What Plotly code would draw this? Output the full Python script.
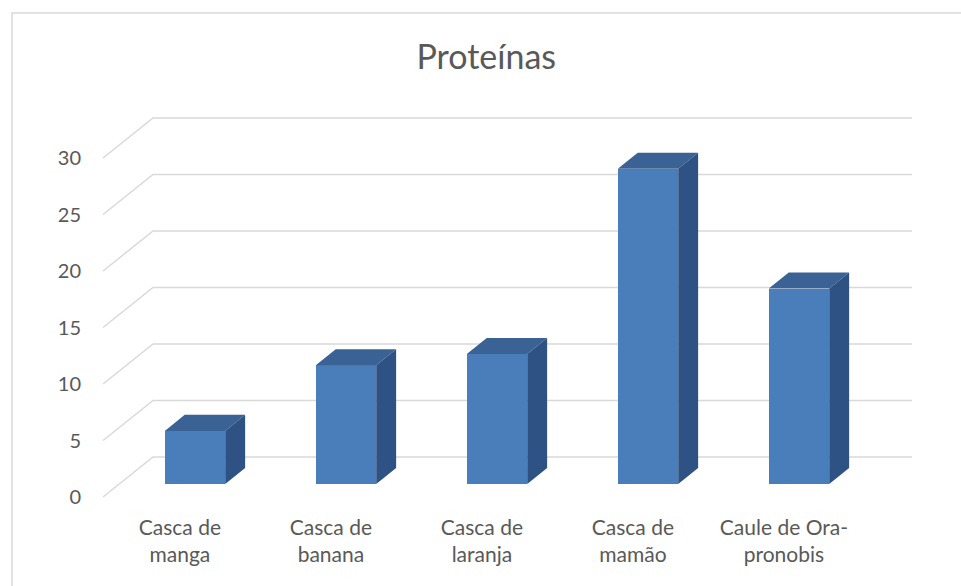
import plotly.graph_objects as go

# ---- data ----
categories = ["Casca de<br>manga", "Casca de<br>banana", "Casca de<br>laranja",
              "Casca de<br>mamão", "Caule de Ora-<br>pronobis"]
values = [4.7, 10.5, 11.5, 27.9, 17.3]
y_ticks = [0, 5, 10, 15, 20, 25, 30]
title = "Proteínas"

# ---- pseudo-3D geometry (data units) ----
BAR_W = 0.40      # front face width
DEP_X = 0.132     # bar depth offset in x
DEP_Y = 1.42      # bar depth offset in y
FRONT_Y = 1.15    # floor front edge below bar plane
BACK_Y = 2.39     # back wall above bar plane
X_FRONT = -0.609
X_BACK = -0.278
X_END = 4.748

FRONT_C = "#4A7EBB"
TOP_C = "#3A6294"
SIDE_C = "#2E5283"
GRID_C = "#D9D9D9"
TEXT_C = "#595959"
FONT = "Lato"

fig = go.Figure()

xs = list(range(len(values)))
# front faces
fig.add_trace(go.Bar(x=xs, y=values, width=BAR_W, marker=dict(color=FRONT_C, line=dict(width=0)),
                     showlegend=False, name="Proteínas"))

# top and side faces
for i, h in zip(xs, values):
    x0, x1 = i - BAR_W / 2, i + BAR_W / 2
    fig.add_trace(go.Scatter(
        x=[x0, x1, x1 + DEP_X, x0 + DEP_X, x0],
        y=[h, h, h + DEP_Y, h + DEP_Y, h],
        fill="toself", fillcolor=TOP_C, mode="lines", line=dict(width=0, color=TOP_C),
        hoverinfo="skip", showlegend=False))
    fig.add_trace(go.Scatter(
        x=[x1, x1 + DEP_X, x1 + DEP_X, x1, x1],
        y=[0, DEP_Y, h + DEP_Y, h, 0],
        fill="toself", fillcolor=SIDE_C, mode="lines", line=dict(width=0, color=SIDE_C),
        hoverinfo="skip", showlegend=False))

L, R, T, B = 100, 930, 100, 505
W, H = 961, 586
X0PX, XSC = 195, 151
Y0PX, YSC = 484, 11.3

shapes = []
# gridlines: floor diagonal + back wall, drawn beneath the bars
for v in y_ticks:
    shapes.append(dict(type="path", xref="x", yref="y", layer="below",
                       path=f"M{X_FRONT},{v - FRONT_Y} L{X_BACK},{v + BACK_Y} L{X_END},{v + BACK_Y}",
                       line=dict(color=GRID_C, width=1.5)))
# chart border
shapes.append(dict(type="rect", xref="paper", yref="paper",
                   x0=(12 - L) / (R - L), x1=(975 - L) / (R - L),
                   y0=-(600 - B) / (B - T), y1=1 + (T - 13) / (B - T),
                   line=dict(color="#D9D9D9", width=1.5), fillcolor="rgba(0,0,0,0)", layer="below"))

fig.update_layout(
    width=W, height=H,
    margin=dict(l=L, r=W - R, t=T, b=H - B),
    paper_bgcolor="white", plot_bgcolor="white",
    title=dict(text=title, x=0.506, xanchor="center", y=1 - 57 / H, yanchor="middle",
               font=dict(family=FONT, size=34, color=TEXT_C)),
    xaxis=dict(range=[(L - X0PX) / XSC, (R - X0PX) / XSC], showgrid=False, zeroline=False,
               showline=False, tickmode="array", tickvals=[i - 0.1 for i in xs],
               ticktext=categories, ticks="", ticklabelstandoff=8,
               tickfont=dict(family=FONT, size=21, color=TEXT_C)),
    yaxis=dict(range=[(Y0PX - B) / YSC, (Y0PX - T) / YSC], showgrid=False, zeroline=False,
               showline=False, tickmode="array", tickvals=[v - FRONT_Y for v in y_ticks],
               ticktext=[str(v) for v in y_ticks], ticks="", ticklabelstandoff=18,
               tickfont=dict(family=FONT, size=20, color=TEXT_C)),
    bargap=0,
    shapes=shapes,
)

fig.write_html("out.html")
